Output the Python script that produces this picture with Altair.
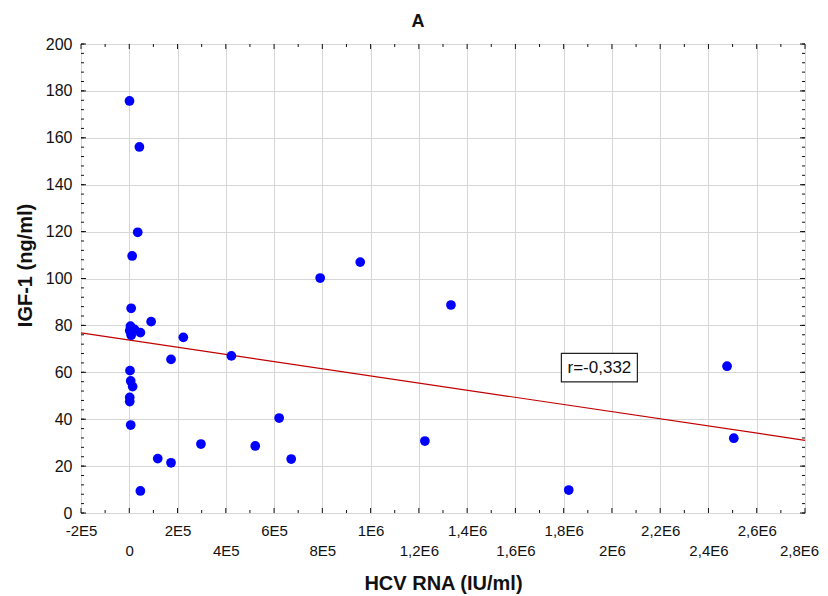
import altair as alt
import pandas as pd

# ---- data ----
hcv_rna = [1000, 42000, 35000, 12000, 7900, 90600, 5000, 2000, 21500, 46000,
           8000, 224000, 173000, 423000, 3000, 6000, 14000, 2000, 2000, 6000,
           297000, 118000, 173000, 46000, 522000, 621000, 671000, 791000,
           957000, 1225000, 1333000, 1821000, 2477000, 2505000]
igf_1 = [175.7, 156.1, 119.7, 109.6, 87.3, 81.6, 79.7, 77.7, 78.3, 76.9,
         75.8, 74.9, 65.5, 67.0, 60.7, 56.3, 53.9, 49.3, 47.5, 37.5,
         29.4, 23.2, 21.4, 9.4, 28.6, 40.5, 23.0, 100.2,
         107.0, 30.7, 88.7, 9.8, 62.6, 31.9]

# fitted line, end values
fit_hcv = [-200000, 2800000]
fit_igf = [76.8, 31.0]

x_tick_values = [-200000, 0, 200000, 400000, 600000, 800000, 1000000, 1200000,
                 1400000, 1600000, 1800000, 2000000, 2200000, 2400000, 2600000, 2800000]
x_tick_labels = ["-2E5", "0", "2E5", "4E5", "6E5", "8E5", "1E6", "1,2E6",
                 "1,4E6", "1,6E6", "1,8E6", "2E6", "2,2E6", "2,4E6", "2,6E6", "2,8E6"]
y_tick_values = [0, 20, 40, 60, 80, 100, 120, 140, 160, 180, 200]
x_minor_values = [v + 100000 for v in x_tick_values[:-1]]
y_minor_values = [v for v in range(0, 201, 4)]

annot_x = [1948000]
annot_y = [62.0]
annot_text = ["r=-0,332"]

FONT = "Liberation Sans"
W, H = 724, 469

# label expression: alternate rows
parts = []
for i, (v, lab) in enumerate(zip(x_tick_values, x_tick_labels)):
    val = f"'{lab}'" if i % 2 == 0 else f"['', '{lab}']"
    parts.append(f"round(datum.value) == {v} ? {val} : ")
label_expr = "".join(parts) + "''"

xscale = alt.Scale(domain=[-200000, 2800000], nice=False, zero=False)
yscale = alt.Scale(domain=[0, 200], nice=False, zero=False)

xaxis = alt.Axis(values=x_tick_values, labelExpr=label_expr, ticks=False, domain=False,
                 grid=True, gridColor="#d6d6d6", gridWidth=1,
                 labelFont=FONT, labelFontSize=15, labelColor="#111",
                 labelPadding=10, labelLineHeight=20, labelOverlap=False, labelFlush=False,
                 labelBound=False,
                 labelOffset={"condition": {"test": f"round(datum.value) == {x_tick_values[-1]}",
                                            "value": -6}, "value": 0},
                 titleFont=FONT, titleFontSize=20, titleFontWeight="bold", titleColor="#111",
                 titlePadding=15)
yaxis = alt.Axis(values=y_tick_values, ticks=False, domain=False,
                 grid=True, gridColor="#d6d6d6", gridWidth=1,
                 labelFont=FONT, labelFontSize=16, labelColor="#111", labelPadding=9,
                 labelOverlap=False, labelFlush=False,
                 titleFont=FONT, titleFontSize=20, titleFontWeight="bold", titleColor="#111",
                 titlePadding=10, titleY=221)


def xenc():
    return alt.X("hcv:Q", scale=xscale, axis=xaxis, title="HCV RNA (IU/ml)")


def yenc():
    return alt.Y("igf:Q", scale=yscale, axis=yaxis, title="IGF-1 (ng/ml)")


df = pd.DataFrame({"hcv": hcv_rna, "igf": igf_1})
fdf = pd.DataFrame({"hcv": fit_hcv, "igf": fit_igf})

line = alt.Chart(fdf).mark_line(color="#c00000", strokeWidth=1.2).encode(x=xenc(), y=yenc())

points = alt.Chart(df).mark_circle(size=95, color="#0000ff", opacity=1).encode(
    x=xenc(), y=yenc())

adf = pd.DataFrame({"hcv": annot_x, "igf": annot_y, "t": annot_text})
box = alt.Chart(adf).mark_point(
    shape="M-1,-0.375L1,-0.375L1,0.375L-1,0.375Z", size=76 * 76, filled=True,
    fill="white", stroke="#222", strokeWidth=1.2, opacity=1
).encode(x=xenc(), y=yenc())
txt = alt.Chart(adf).mark_text(font=FONT, fontSize=17, color="#111", align="center",
                               baseline="middle").encode(x=xenc(), y=yenc(), text="t:N")

# inward tick marks
ymaj = pd.DataFrame({"igf": y_tick_values})
ymin = pd.DataFrame({"igf": y_minor_values})
xmaj = pd.DataFrame({"hcv": x_tick_values})
xmin = pd.DataFrame({"hcv": x_minor_values})

tick_layers = []
for d, ln in ((ymaj, 5), (ymin, 3)):
    tick_layers.append(alt.Chart(d).mark_rule(color="#111", strokeWidth=1).encode(
        y=yenc(), x=alt.value(0), x2=alt.value(ln)))
    tick_layers.append(alt.Chart(d).mark_rule(color="#111", strokeWidth=1).encode(
        y=yenc(), x=alt.value(W - ln), x2=alt.value(W)))
for d, ln in ((xmaj, 5), (xmin, 3)):
    tick_layers.append(alt.Chart(d).mark_rule(color="#111", strokeWidth=1).encode(
        x=xenc(), y=alt.value(0), y2=alt.value(ln)))
    tick_layers.append(alt.Chart(d).mark_rule(color="#111", strokeWidth=1).encode(
        x=xenc(), y=alt.value(H - ln), y2=alt.value(H)))

chart = alt.layer(line, points, *tick_layers, box, txt).properties(
    width=W, height=H,
    title=alt.TitleParams("A", font=FONT, fontSize=18, fontWeight="bold", color="#111",
                          dx=-25, offset=5),
    autosize=alt.AutoSizeParams(type="none"),
    padding={"left": 73, "top": 36, "right": 15, "bottom": 82},
).configure_view(stroke="#111", strokeWidth=1.2).configure(background="white")

chart.save("out.html", embed_options={"renderer": "svg", "actions": False})
